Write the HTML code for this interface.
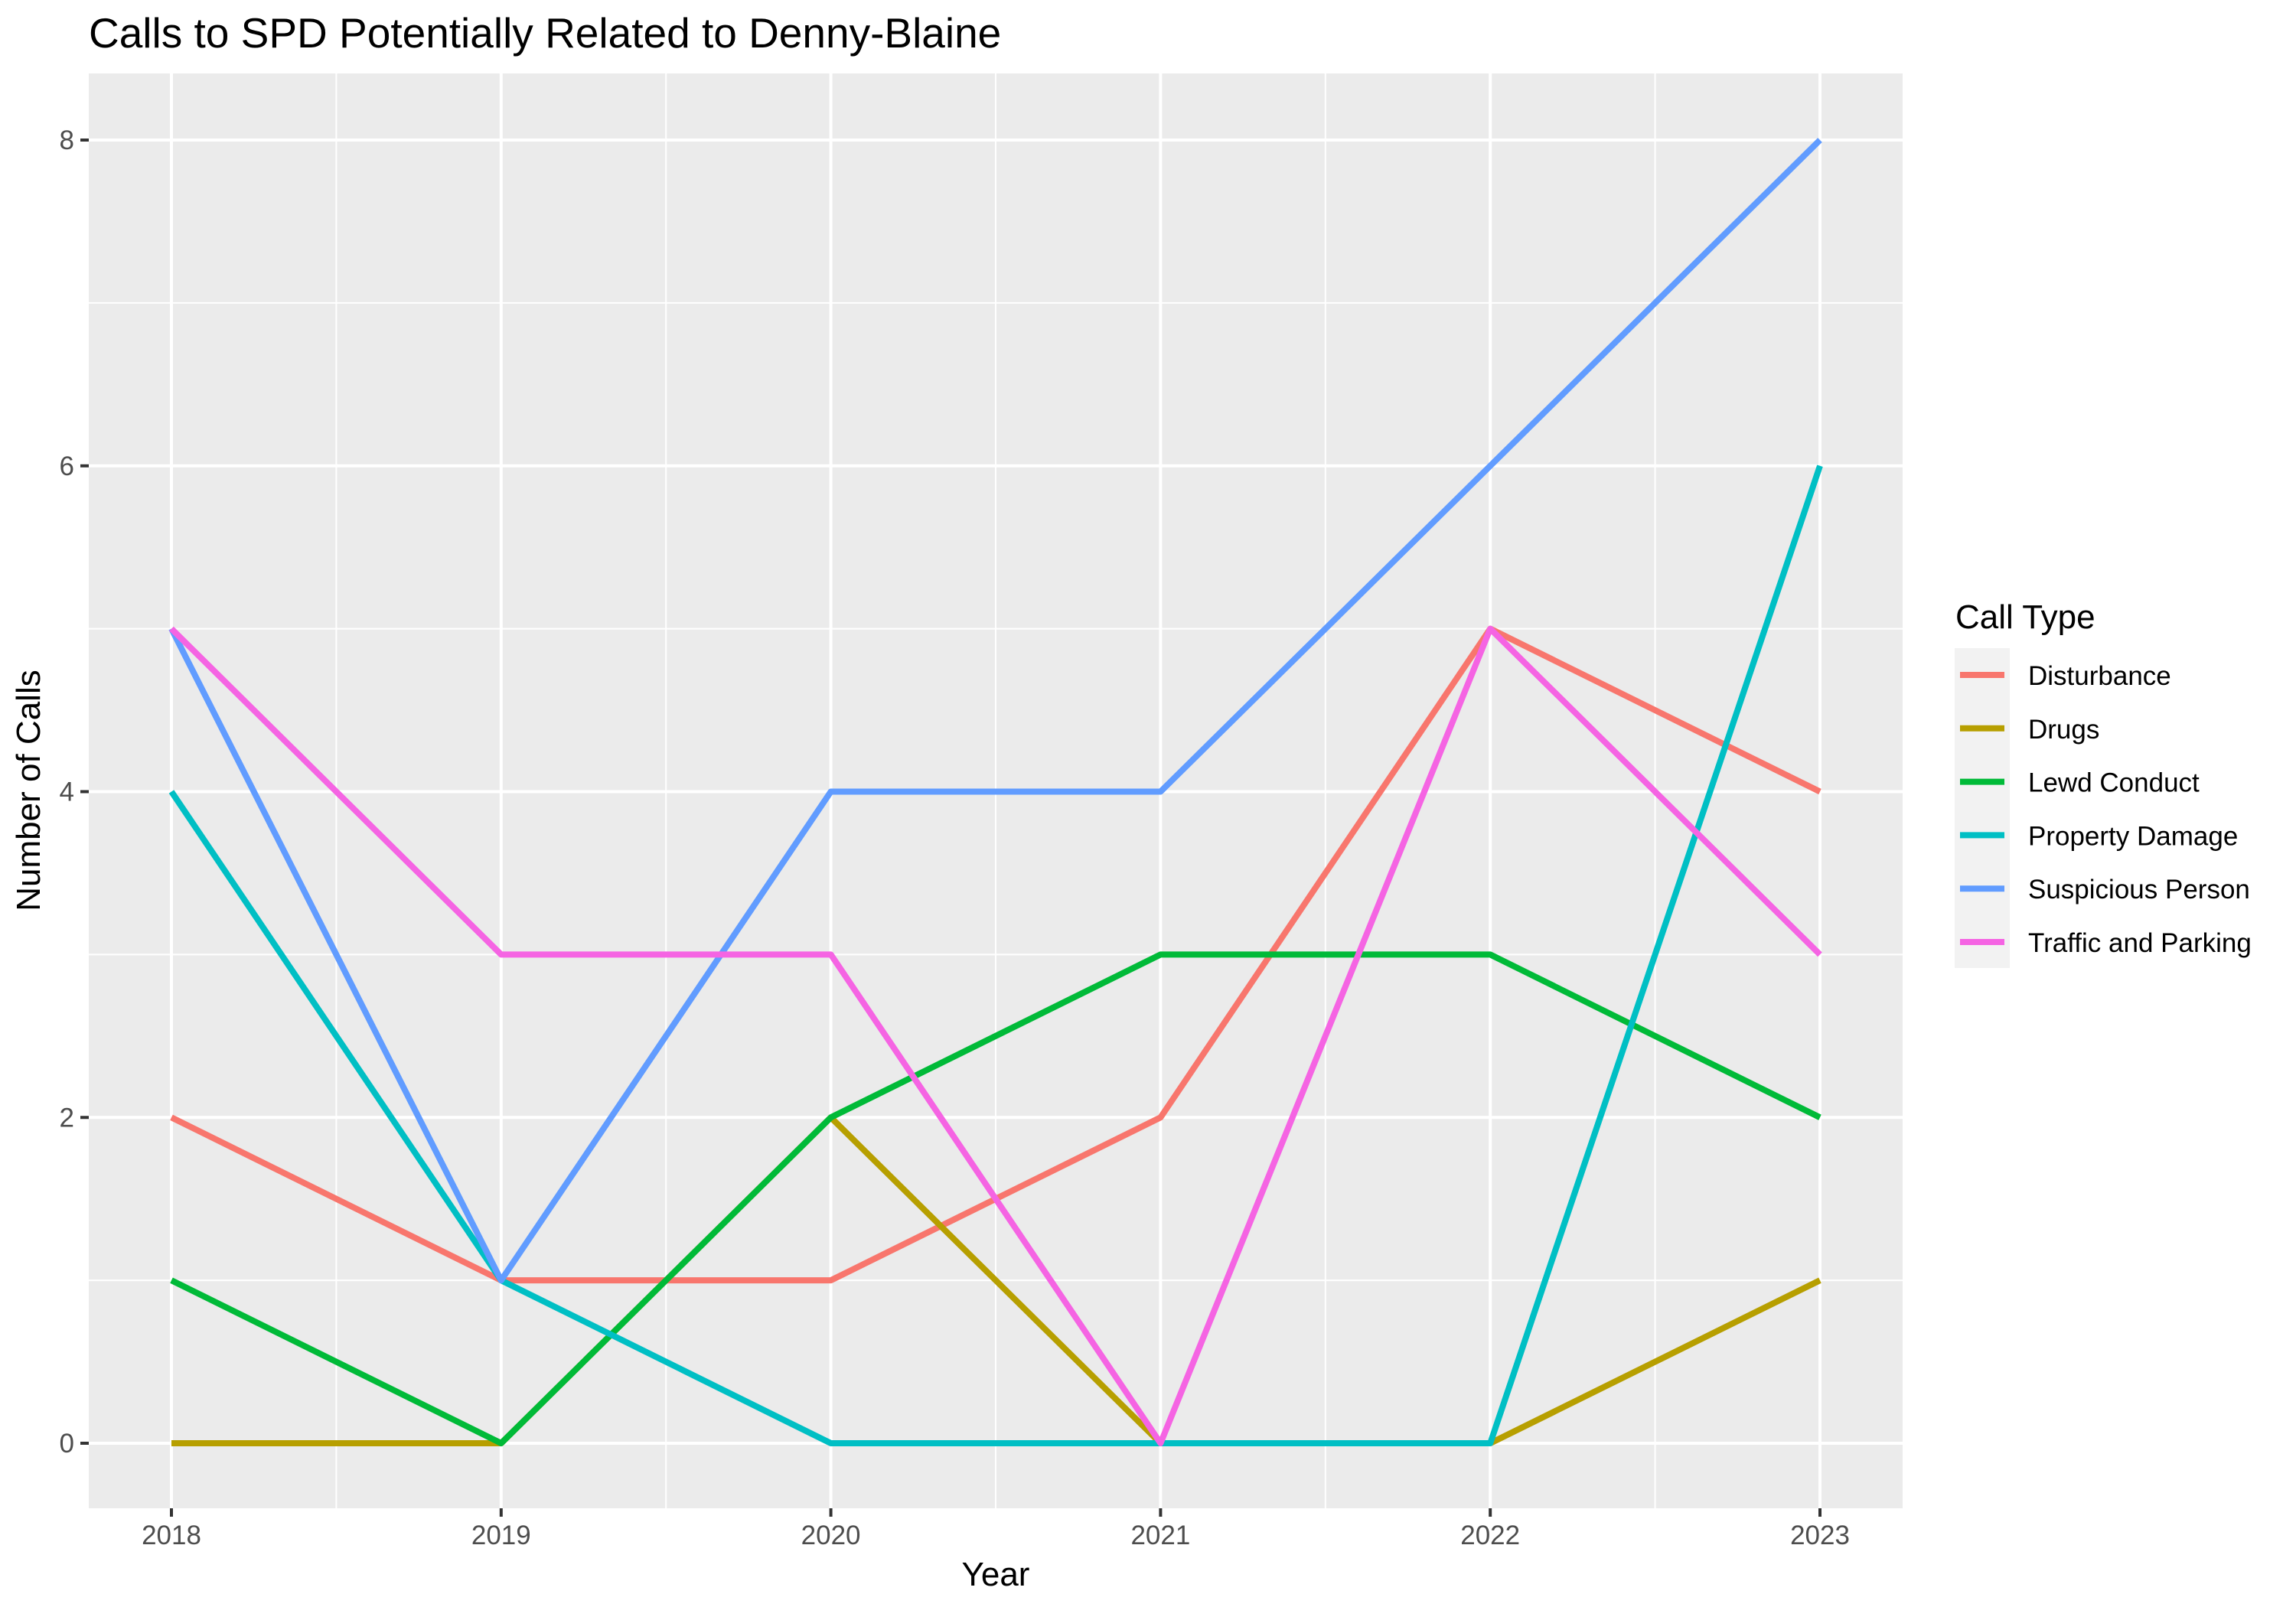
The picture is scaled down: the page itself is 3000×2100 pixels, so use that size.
<!DOCTYPE html>
<html><head><meta charset="utf-8"><style>
html,body{margin:0;padding:0;background:#fff;}
svg{display:block;font-family:"Liberation Sans",Arial,sans-serif;}
</style></head><body>
<svg id="chart" width="3000" height="2100" viewBox="0 0 3000 2100">
<text x="116" y="62" font-size="55" fill="#000">Calls to SPD Potentially Related to Denny-Blaine</text>
<rect x="116" y="96" width="2370" height="1875" fill="#ebebeb"/>
<g id="grid"></g>
<g id="series"></g>
<g id="axes"></g>
<text x="1301" y="2072" font-size="44" text-anchor="middle" fill="#000">Year</text>
<text x="0" y="0" font-size="44" text-anchor="middle" fill="#000" transform="translate(52,1033) rotate(-90)">Number of Calls</text>
<text x="2555" y="821" font-size="44" fill="#000">Call Type</text>
<rect x="2554" y="847" width="72" height="418" fill="#f2f2f2"/>
<g id="legend"></g>
</svg>
<script>
const years = [2018, 2019, 2020, 2021, 2022, 2023];
const seriesNames = ["Disturbance", "Drugs", "Lewd Conduct", "Property Damage", "Suspicious Person", "Traffic and Parking"];
const disturbance = [2, 1, 1, 2, 5, 4];
const drugs = [0, 0, 2, 0, 0, 1];
const lewdConduct = [1, 0, 2, 3, 3, 2];
const propertyDamage = [4, 1, 0, 0, 0, 6];
const suspiciousPerson = [5, 1, 4, 4, 6, 8];
const trafficParking = [5, 3, 3, 0, 5, 3];
const yTicks = [0, 2, 4, 6, 8];
const colors = ["#F8766D", "#B79F00", "#00BA38", "#00BFC4", "#619CFF", "#F564E3"];
const allSeries = [disturbance, drugs, lewdConduct, propertyDamage, suspiciousPerson, trafficParking];

const NS = "http://www.w3.org/2000/svg";
const PL = 116, PR = 2486, PT = 96, PB = 1971;
const x0 = 224, x1 = 2378, y0 = 1886, y8 = 183;
function xs(v){ return x0 + (v - years[0]) * (x1 - x0) / (years[years.length-1] - years[0]); }
function ys(v){ return y0 - v * (y0 - y8) / 8; }
function mk(tag, attrs, parent){
  const e = document.createElementNS(NS, tag);
  for (const k in attrs) e.setAttribute(k, attrs[k]);
  parent.appendChild(e);
  return e;
}
const grid = document.getElementById("grid");
const axes = document.getElementById("axes");
const series = document.getElementById("series");
const legend = document.getElementById("legend");

for (let i = 0; i < years.length - 1; i++) {
  const xm = (xs(years[i]) + xs(years[i+1])) / 2;
  const l = mk("line", {x1: xm, x2: xm, y1: PT, y2: PB, stroke: "#fff", "stroke-width": 2}, grid);
  
  
}
for (let i = 0; i < yTicks.length - 1; i++) {
  const ym = (ys(yTicks[i]) + ys(yTicks[i+1])) / 2;
  const l = mk("line", {x1: PL, x2: PR, y1: ym, y2: ym, stroke: "#fff", "stroke-width": 2}, grid);
  
  
}
years.forEach(yr => {
  const x = xs(yr);
  const g = mk("line", {x1: x, x2: x, y1: PT, y2: PB, stroke: "#fff", "stroke-width": 4}, grid);
  
  
  const t = mk("line", {x1: x, x2: x, y1: PB, y2: PB + 11, stroke: "#333", "stroke-width": 4}, axes);
  
  
  const tx = mk("text", {x: x, y: 2018, "font-size": 35, fill: "#4d4d4d", "text-anchor": "middle"}, axes);
  tx.textContent = yr;
  
  
});
yTicks.forEach(v => {
  const y = ys(v);
  const g = mk("line", {x1: PL, x2: PR, y1: y, y2: y, stroke: "#fff", "stroke-width": 4}, grid);
  
  
  const t = mk("line", {x1: PL - 11, x2: PL, y1: y, y2: y, stroke: "#333", "stroke-width": 4}, axes);
  
  
  const tx = mk("text", {x: 97, y: y + 12, "font-size": 35, fill: "#4d4d4d", "text-anchor": "end"}, axes);
  tx.textContent = v;
  
  
});
allSeries.forEach((vals, i) => {
  const pts = vals.map((v, j) => xs(years[j]) + "," + ys(v)).join(" ");
  const p = mk("polyline", {points: pts, fill: "none", stroke: colors[i], "stroke-width": 8, "stroke-linejoin": "round"}, series);
  
  
});
seriesNames.forEach((n, i) => {
  const cy = 882 + i * 69.8;
  const l = mk("line", {x1: 2561, x2: 2619, y1: cy, y2: cy, stroke: colors[i], "stroke-width": 8}, legend);
  
  
  const t = mk("text", {x: 2650, y: cy + 13, "font-size": 35, fill: "#000"}, legend);
  t.textContent = n;
  
  
});
</script>
</body></html>
